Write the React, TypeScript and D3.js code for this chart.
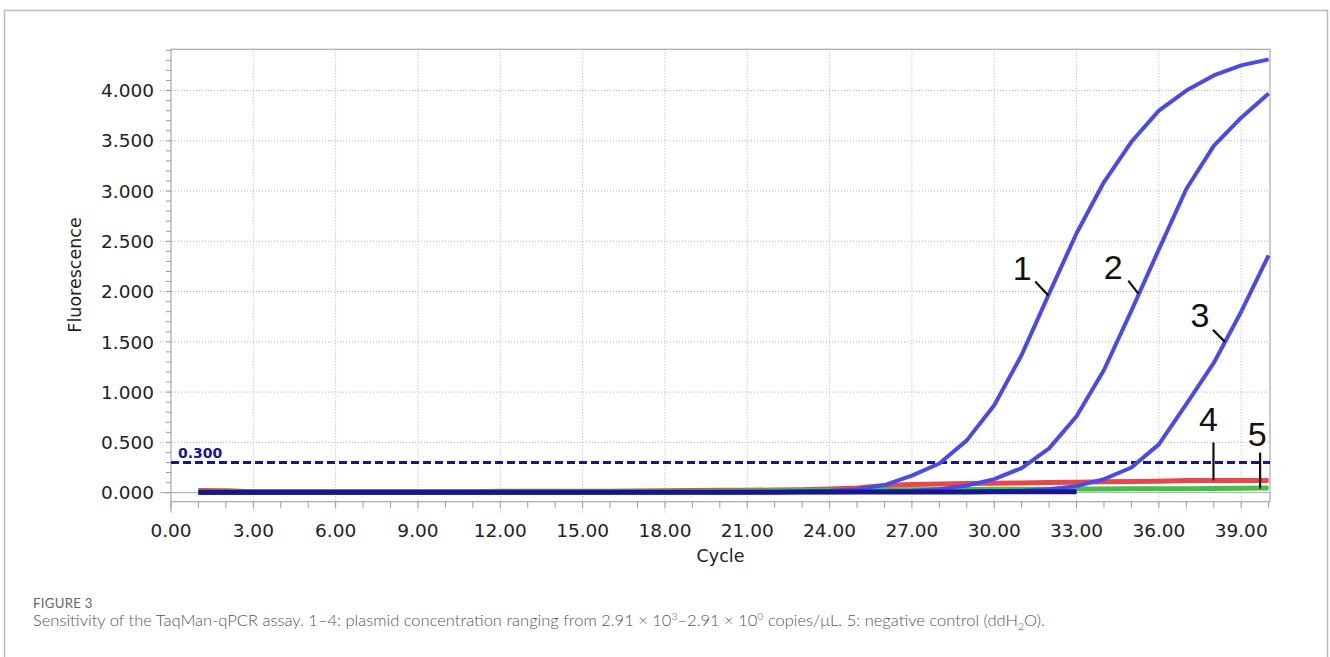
import { useEffect } from "react";
import * as d3 from "d3";

// qPCR cycles
const cycles = [
  1, 2, 3, 4, 5, 6, 7, 8, 9, 10, 11, 12, 13, 14, 15, 16, 17, 18, 19, 20,
  21, 22, 23, 24, 25, 26, 27, 28, 29, 30, 31, 32, 33, 34, 35, 36, 37, 38, 39, 40,
];

// curve 1-3: plasmid dilutions (blue)
const curve1 = [
  0.002, 0.002, 0.002, 0.002, 0.002, 0.002, 0.002, 0.002, 0.002, 0.002,
  0.003, 0.003, 0.003, 0.003, 0.004, 0.004, 0.005, 0.005, 0.006, 0.007,
  0.008, 0.01, 0.012, 0.018, 0.035, 0.075, 0.17, 0.29, 0.52, 0.87,
  1.37, 1.98, 2.58, 3.09, 3.49, 3.8, 4.0, 4.15, 4.25, 4.31,
];
const curve2 = [
  0.002, 0.002, 0.002, 0.002, 0.002, 0.002, 0.002, 0.002, 0.002, 0.002,
  0.002, 0.002, 0.003, 0.003, 0.003, 0.003, 0.004, 0.004, 0.004, 0.005,
  0.005, 0.006, 0.007, 0.008, 0.009, 0.012, 0.02, 0.035, 0.07, 0.135,
  0.245, 0.44, 0.76, 1.22, 1.81, 2.42, 3.02, 3.45, 3.73, 3.97,
];
const curve3 = [
  0.002, 0.002, 0.002, 0.002, 0.002, 0.002, 0.002, 0.002, 0.002, 0.002,
  0.002, 0.002, 0.002, 0.002, 0.003, 0.003, 0.003, 0.003, 0.003, 0.004,
  0.004, 0.004, 0.005, 0.005, 0.006, 0.007, 0.008, 0.01, 0.012, 0.015,
  0.02, 0.035, 0.065, 0.135, 0.25, 0.48, 0.88, 1.29, 1.8, 2.36,
];
// curve 4: lowest dilution (red)
const curve4 = [
  0.022, 0.02, 0.01, 0.008, 0.008, 0.008, 0.008, 0.008, 0.008, 0.009,
  0.01, 0.013, 0.014, 0.014, 0.015, 0.015, 0.016, 0.02, 0.022, 0.023,
  0.024, 0.026, 0.03, 0.036, 0.046, 0.07, 0.08, 0.085, 0.09, 0.093,
  0.096, 0.1, 0.104, 0.108, 0.11, 0.113, 0.12, 0.122, 0.122, 0.122,
];
// curve 5: negative control (green)
const curve5 = [
  0.006, 0.006, 0.006, 0.006, 0.006, 0.006, 0.007, 0.007, 0.007, 0.007,
  0.008, 0.008, 0.008, 0.009, 0.009, 0.01, 0.01, 0.011, 0.012, 0.013,
  0.016, 0.018, 0.021, 0.024, 0.026, 0.028, 0.03, 0.031, 0.032, 0.033,
  0.034, 0.035, 0.036, 0.037, 0.038, 0.039, 0.04, 0.041, 0.043, 0.046,
];
// overlapping baseline traces (dark navy band), cycles 1-33
const baseline = [
  0.004, 0.004, 0.004, 0.004, 0.004, 0.004, 0.004, 0.004, 0.004, 0.004,
  0.004, 0.004, 0.004, 0.004, 0.004, 0.004, 0.005, 0.005, 0.005, 0.005,
  0.005, 0.005, 0.006, 0.006, 0.006, 0.006, 0.007, 0.007, 0.007, 0.008,
  0.008, 0.009, 0.01,
];

const xTicks = [0, 3, 6, 9, 12, 15, 18, 21, 24, 27, 30, 33, 36, 39];
const yTicks = [0, 0.5, 1, 1.5, 2, 2.5, 3, 3.5, 4];
const threshold = 0.3;

// curve annotations
const labelNames = ["1", "2", "3", "4", "5"];
const labelCycles = [31.97, 35.25, 38.41, 37.99, 39.69];
const labelValues = [1.96, 1.98, 1.5, 0.122, 0.04];

const W = 1330;
const H = 657;
const plot = { left: 171, right: 1270, top: 49.3, bottom: 501.7 };
const tickFont = "'DejaVu Sans', Verdana, sans-serif";

// label layout: [text dx, text dy, line x2 offset, line y2 offset]
const labelLayout = [
  [-26, -16, -13, -14],
  [-25, -15, -10, -13],
  [-25, -15, -12, -12],
  [-5, -49, 0, -38],
  [-3, -43, 0, -36],
];

const App = () => {
  useEffect(() => {
    document.body.style.margin = "0";
  }, []);

  const x = d3.scaleLinear().domain([0, 40.05]).range([plot.left, plot.right]);
  const y = d3.scaleLinear().domain([-0.09, 4.41]).range([plot.bottom, plot.top]);

  const line = d3
    .line<[number, number]>()
    .x((d) => x(d[0]))
    .y((d) => y(d[1]));

  const series = (vals: number[]) => vals.map((v, i) => [cycles[i], v] as [number, number]);

  const minorX = x.ticks(40);
  const minorY = y.ticks(45).filter((v) => v >= 0);

  const blue = "#4a4ae8";
  const navy = "#16168f";

  return (
    <svg width={W} height={H} style={{ display: "block", background: "#fff" }}>
      <rect x={4.5} y={10.5} width={1323} height={700} fill="none" stroke="#b8b8b8" strokeWidth={1.5} />

      {/* grid */}
      {xTicks.filter((t) => t > 0).map((t) => (
        <line key={"gx" + t} x1={x(t)} x2={x(t)} y1={plot.top} y2={plot.bottom + 11}
          stroke="#b4b4b4" strokeDasharray="1,2" />
      ))}
      {yTicks.filter((t) => t > 0).map((t) => (
        <line key={"gy" + t} x1={plot.left - 11} x2={plot.right} y1={y(t)} y2={y(t)}
          stroke="#b4b4b4" strokeDasharray="1,2" />
      ))}
      <line x1={plot.left - 11} x2={plot.right} y1={y(0)} y2={y(0)} stroke="#aaa" />

      {/* minor ticks */}
      {minorX.map((t) => (
        <line key={"mx" + t} x1={x(t)} x2={x(t)} y1={plot.bottom} y2={plot.bottom + 6} stroke="#999" />
      ))}
      {minorY.map((t) => (
        <line key={"my" + t} x1={plot.left - 5} x2={plot.left} y1={y(t)} y2={y(t)} stroke="#999" />
      ))}
      <line x1={plot.left} x2={plot.left} y1={plot.bottom} y2={plot.bottom + 11} stroke="#999" />

      {/* plot frame */}
      <rect x={plot.left} y={plot.top} width={plot.right - plot.left} height={plot.bottom - plot.top}
        fill="none" stroke="#a8a8a8" strokeWidth={1.2} />

      {/* tick labels */}
      {yTicks.map((t) => (
        <text key={"ly" + t} x={plot.left - 17} y={y(t)} dy="0.36em" textAnchor="end"
          fontFamily={tickFont} fontSize={18.5} fill="#222">{d3.format(".3f")(t)}</text>
      ))}
      {xTicks.map((t) => (
        <text key={"lx" + t} x={x(t)} y={537} textAnchor="middle"
          fontFamily={tickFont} fontSize={18.5} fill="#222">{d3.format(".2f")(t)}</text>
      ))}

      {/* axis titles */}
      <text x={720.5} y={562} textAnchor="middle" fontFamily={tickFont} fontSize={17.5} fill="#222">Cycle</text>
      <text transform="translate(80.5,275) rotate(-90)" textAnchor="middle" fontFamily={tickFont}
        fontSize={17.5} fill="#222">Fluorescence</text>

      {/* threshold */}
      <line x1={plot.left} x2={plot.right} y1={y(threshold)} y2={y(threshold)} stroke={navy}
        strokeWidth={3} strokeDasharray="8,4" />
      <text x={178} y={y(threshold) - 4} fontFamily={tickFont} fontSize={14} fontWeight="bold"
        fill={navy}>{d3.format(".3f")(threshold)}</text>

      {/* curves */}
      <g fill="none" strokeLinejoin="round">
        <path d={line(series(curve4)) || ""} stroke="#e84848" strokeWidth={5} />
        <path d={line(series(curve5)) || ""} stroke="#44bf4a" strokeWidth={5} />
        <path d={line(series(curve3)) || ""} stroke={blue} strokeWidth={4} />
        <path d={line(series(curve2)) || ""} stroke={blue} strokeWidth={4} />
        <path d={line(series(curve1)) || ""} stroke={blue} strokeWidth={4} />
        <path d={line(series(baseline)) || ""} stroke={navy} strokeWidth={5} />
      </g>

      {/* annotations */}
      {labelNames.map((name, i) => {
        const px = x(labelCycles[i]);
        const py = y(labelValues[i]);
        const [tx, ty, lx, ly] = labelLayout[i];
        return (
          <g key={"ann" + name}>
            <line x1={px} y1={py} x2={px + lx} y2={py + ly} stroke="#111" strokeWidth={2.2} />
            <text x={px + tx} y={py + ty} textAnchor="middle" fontFamily="'Liberation Sans', Arial, sans-serif"
              fontSize={34} fill="#111">{name}</text>
          </g>
        );
      })}

      {/* caption */}
      <text x={33} y={607.5} fontFamily="Lato, sans-serif" fontSize={13.2} fill="#666"
        letterSpacing={0.3}>FIGURE 3</text>
      <text x={33} y={625.5} fontFamily="Lato, sans-serif" fontSize={16.5} fontWeight={300} fill="#555">
        Sensitivity of the TaqMan-qPCR assay. 1–4: plasmid concentration ranging from 2.91 × 10
        <tspan dy={-6} fontSize={10.5}>3</tspan>
        <tspan dy={6}>–2.91 × 10</tspan>
        <tspan dy={-6} fontSize={10.5}>0</tspan>
        <tspan dy={6}> copies/μL. 5: negative control (ddH</tspan>
        <tspan dy={4} fontSize={10.5}>2</tspan>
        <tspan dy={-4}>O).</tspan>
      </text>
    </svg>
  );
};

export default App;
